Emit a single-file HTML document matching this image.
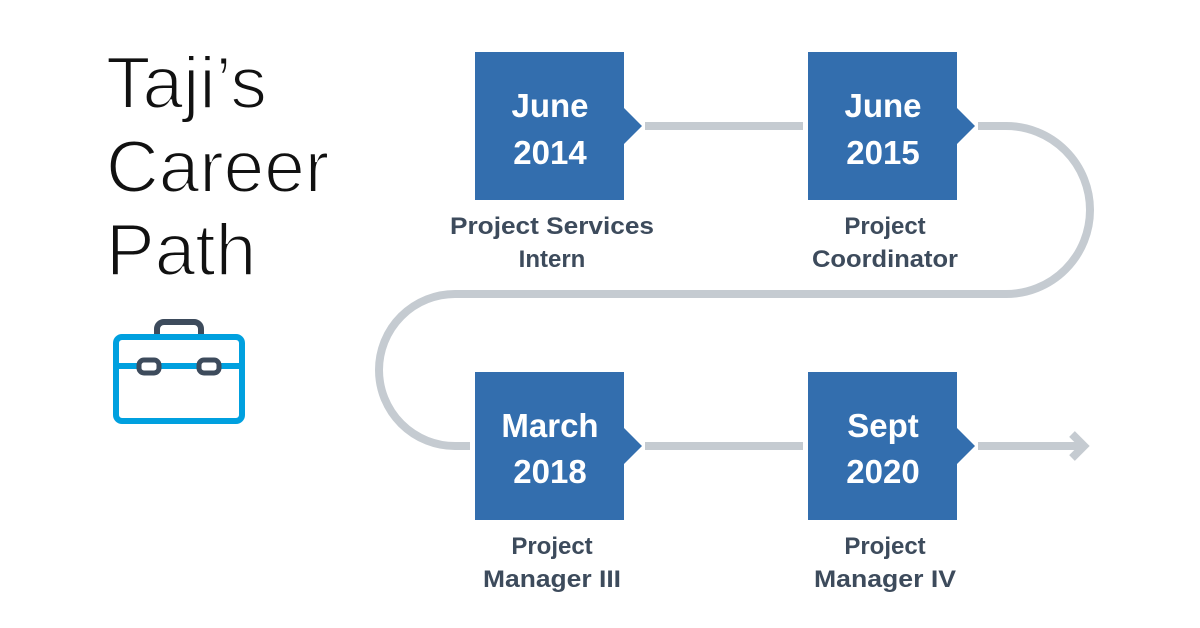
<!DOCTYPE html>
<html><head><meta charset="utf-8"><style>
html,body{margin:0;padding:0;background:#fff;}
svg{display:block;}
</style></head><body>
<svg width="1200" height="628" viewBox="0 0 1200 628" xmlns="http://www.w3.org/2000/svg">
<rect width="1200" height="628" fill="#fff"/>
<g font-family="Liberation Sans, sans-serif" font-size="73" fill="#111" stroke="#fff" stroke-width="2">
<text x="106" y="108">Taji’s</text>
<text x="106" y="192">Career</text>
<text x="106" y="275">Path</text>
</g>
<!-- briefcase -->
<rect x="157" y="322" width="44" height="30" rx="7" fill="none" stroke="#3d4b5c" stroke-width="6"/>
<rect x="116" y="337" width="126" height="84" rx="6" fill="#fff" stroke="#00a0df" stroke-width="6"/>
<line x1="116" y1="366" x2="242" y2="366" stroke="#00a0df" stroke-width="6"/>
<rect x="139" y="360" width="20" height="13" rx="5" fill="#fff" stroke="#3d4b5c" stroke-width="5"/>
<rect x="199" y="360" width="20" height="13" rx="5" fill="#fff" stroke="#3d4b5c" stroke-width="5"/>
<!-- path -->
<g fill="none" stroke="#c5cbd1" stroke-width="8">
<line x1="645" y1="126" x2="803" y2="126"/>
<path d="M978 126 H1006 A84 84 0 0 1 1006 294 H455 A76 76 0 0 0 455 446 H470"/>
<line x1="645" y1="446" x2="803" y2="446"/>
<line x1="978" y1="446" x2="1084" y2="446"/>
<polyline points="1072,434 1084,446 1072,458" stroke-linejoin="miter"/>
</g>
<!-- boxes -->
<g fill="#336eae">
<path d="M475 52 H624 V108 L642 126 L624 144 V200 H475 Z"/>
<path d="M808 52 H957 V108 L975 126 L957 144 V200 H808 Z"/>
<path d="M475 372 H624 V428 L642 446 L624 464 V520 H475 Z"/>
<path d="M808 372 H957 V428 L975 446 L957 464 V520 H808 Z"/>
</g>
<g font-family="Liberation Sans, sans-serif" font-weight="bold" font-size="33" fill="#fff" text-anchor="middle">
<text x="550" y="117">June</text><text x="550" y="164">2014</text>
<text x="883" y="117">June</text><text x="883" y="164">2015</text>
<text x="550" y="437">March</text><text x="550" y="483">2018</text>
<text x="883" y="437">Sept</text><text x="883" y="483">2020</text>
</g>
<g font-family="Liberation Sans, sans-serif" font-weight="bold" font-size="24" fill="#3d4b5c" text-anchor="middle">
<text x="552" y="234" textLength="204" lengthAdjust="spacingAndGlyphs">Project Services</text>
<text x="552" y="267">Intern</text>
<text x="885" y="234">Project</text>
<text x="885" y="267" textLength="146" lengthAdjust="spacingAndGlyphs">Coordinator</text>
<text x="552" y="554">Project</text>
<text x="552" y="587" textLength="138" lengthAdjust="spacingAndGlyphs">Manager III</text>
<text x="885" y="554">Project</text>
<text x="885" y="587" textLength="142" lengthAdjust="spacingAndGlyphs">Manager IV</text>
</g>
</svg>
</body></html>
